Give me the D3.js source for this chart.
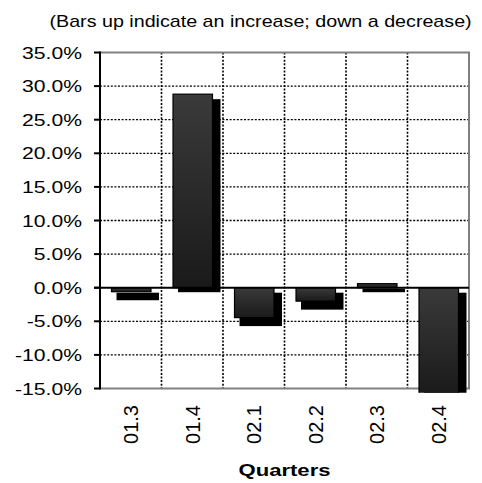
<!DOCTYPE html>
<html>
<head>
<meta charset="utf-8">
<script src="https://cdn.jsdelivr.net/npm/d3@7"></script>
<style>
  html, body { margin: 0; padding: 0; background: #fff; }
  svg { display: block; }
  text { font-family: "Liberation Sans", Arial, sans-serif; fill: #000; }
</style>
</head>
<body>
<svg id="chart" width="482" height="483"></svg>
<script>
// Quarter-on-quarter change, in percent
const quarters = ["01.3", "01.4", "02.1", "02.2", "02.3", "02.4"];
const changes = [-0.6, 28.8, -4.45, -2.0, 0.6, -16.0];
const yTicks = [35, 30, 25, 20, 15, 10, 5, 0, -5, -10, -15];
const titleText = "(Bars up indicate an increase; down a decrease)";
const xTitle = "Quarters";

const svg = d3.select("#chart");
const plotLeft = 100, plotRight = 469, plotTop = 52.5, plotBottom = 388.5;

const x = d3.scaleBand().domain(quarters).range([plotLeft, plotRight])
  .paddingInner(0.358).paddingOuter(0.179);
const step = x.step();
const y = d3.scaleLinear().domain([-15, 35]).range([plotBottom, plotTop]);

// gradient for the bar faces
const defs = svg.append("defs");
const grad = defs.append("linearGradient").attr("id", "face")
  .attr("x1", 0).attr("y1", 0).attr("x2", 0).attr("y2", 1);
grad.append("stop").attr("offset", "0%").attr("stop-color", "#3a3a3a");
grad.append("stop").attr("offset", "100%").attr("stop-color", "#1a1a1a");
defs.append("clipPath").attr("id", "barclip").append("rect")
  .attr("x", 0).attr("y", 0).attr("width", 482).attr("height", plotBottom + 4.2);

// title, stretched horizontally like the other labels
svg.append("text")
  .attr("transform", "translate(49.5,26.5) scale(1.2,1)")
  .attr("font-size", 16.4)
  .text(titleText);

// dotted gridlines
const grid = svg.append("g").attr("stroke", "#000").attr("fill", "none");
grid.selectAll("line.h").data(yTicks.filter(t => t !== 0 && t !== 35 && t !== -15))
  .join("line").attr("class", "h")
  .attr("x1", plotLeft).attr("x2", plotRight)
  .attr("y1", d => y(d)).attr("y2", d => y(d))
  .attr("stroke-width", 1.3).attr("stroke-dasharray", "2,1.6");
grid.selectAll("line.v").data(quarters.slice(1))
  .join("line").attr("class", "v")
  .attr("x1", d => x(d) - x.paddingOuter() * step).attr("x2", d => x(d) - x.paddingOuter() * step)
  .attr("y1", plotTop).attr("y2", plotBottom)
  .attr("stroke-width", 1.6).attr("stroke-dasharray", "2,1.6");

// plot border (top, right, bottom)
svg.append("path")
  .attr("d", `M${plotLeft},${plotTop}H${plotRight}V${plotBottom}H${plotLeft}`)
  .attr("fill", "none").attr("stroke", "#808080").attr("stroke-width", 2);

// bars: black side/shadow, then the shaded face
const bars = svg.append("g").attr("clip-path", "url(#barclip)");
const data = quarters.map((q, i) => ({ q, v: changes[i] }));
bars.selectAll("rect.side").data(data).join("rect").attr("class", "side")
  .attr("x", d => x(d.q) + 5.5)
  .attr("width", x.bandwidth() + 3)
  .attr("y", d => Math.min(y(d.v), y(0)) + 5)
  .attr("height", d => Math.abs(y(d.v) - y(0)) + (d.v < 0 ? 3.5 : -0.5))
  .attr("fill", "#000");
bars.selectAll("rect.face").data(data).join("rect").attr("class", "face")
  .attr("x", d => x(d.q) + 0.5)
  .attr("width", x.bandwidth())
  .attr("y", d => Math.min(y(d.v), y(0)))
  .attr("height", d => Math.abs(y(d.v) - y(0)))
  .attr("fill", "url(#face)").attr("stroke", "#000").attr("stroke-width", 1.2);

// left axis, ticks and zero line
const ax = svg.append("g").attr("stroke", "#000").attr("stroke-width", 2);
ax.append("line").attr("x1", plotLeft).attr("x2", plotLeft).attr("y1", plotTop - 1).attr("y2", plotBottom + 1);
ax.selectAll("line.t").data(yTicks).join("line").attr("class", "t")
  .attr("x1", plotLeft - 6).attr("x2", plotLeft)
  .attr("y1", d => y(d)).attr("y2", d => y(d));
ax.append("line").attr("x1", plotLeft - 6).attr("x2", plotRight).attr("y1", y(0)).attr("y2", y(0));

// y tick labels
svg.append("g").selectAll("text").data(yTicks).join("text")
  .attr("transform", d => `translate(82,${y(d) + 6}) scale(1.245,1)`)
  .attr("text-anchor", "end").attr("font-size", 17)
  .text(d => d.toFixed(1) + "%");

// category labels, rotated
svg.append("g").selectAll("text").data(quarters).join("text")
  .attr("transform", d => `translate(${x(d) + x.bandwidth() / 2 + 7.4},405) rotate(-90)`)
  .attr("text-anchor", "end").attr("font-size", 20)
  .text(d => d);

// axis title
svg.append("text")
  .attr("transform", `translate(${(plotLeft + plotRight) / 2},476) scale(1.3,1)`)
  .attr("text-anchor", "middle").attr("font-size", 17).attr("font-weight", "bold")
  .text(xTitle);
</script>
</body>
</html>
